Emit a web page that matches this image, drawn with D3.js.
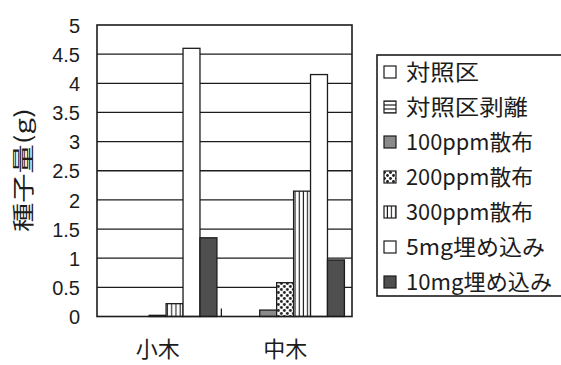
<!DOCTYPE html>
<html>
<head>
<meta charset="utf-8">
<script src="https://cdn.jsdelivr.net/npm/d3@7"></script>
<style>
  html, body { margin: 0; padding: 0; background: #fff; }
  svg { display: block; }
</style>
</head>
<body>
<svg id="chart" width="561" height="365"></svg>
<script>
// Seed yield (g) per tree size and treatment
const categories = ["小木", "中木"];
const seriesNames = ["対照区", "対照区剥離", "100ppm散布", "200ppm散布", "300ppm散布", "5mg埋め込み", "10mg埋め込み"];
const valuesSmallTree = [0, 0, 0, 0.02, 0.22, 4.6, 1.35];
const valuesMediumTree = [0, 0, 0.11, 0.58, 2.15, 4.15, 0.97];
const yTickValues = [0, 0.5, 1, 1.5, 2, 2.5, 3, 3.5, 4, 4.5, 5];
const yTickLabels = ["0", "0.5", "1", "1.5", "2", "2.5", "3", "3.5", "4", "4.5", "5"];
const yTitle = "種子量(g)";

const valuesByCategory = [valuesSmallTree, valuesMediumTree];

const svg = d3.select("#chart");
const ink = "#1c1c1c";
const jpFont = "'Noto Sans CJK JP', 'Noto Sans', sans-serif";
const numFont = "'Liberation Sans', Arial, sans-serif";

// Fill patterns for each treatment
const defs = svg.append("defs");

const hl = defs.append("pattern").attr("id", "p-hlines")
  .attr("patternUnits", "userSpaceOnUse").attr("width", 4).attr("height", 4);
hl.append("rect").attr("width", 4).attr("height", 4).attr("fill", "#fff");
hl.append("line").attr("x1", 0).attr("x2", 4).attr("y1", 2).attr("y2", 2)
  .attr("stroke", ink).attr("stroke-width", 1.2);

const vl = defs.append("pattern").attr("id", "p-vlines")
  .attr("patternUnits", "userSpaceOnUse").attr("width", 4.2).attr("height", 4);
vl.append("rect").attr("width", 4.2).attr("height", 4).attr("fill", "#fff");
vl.append("line").attr("x1", 2).attr("x2", 2).attr("y1", 0).attr("y2", 4)
  .attr("stroke", ink).attr("stroke-width", 1.1);

const dt = defs.append("pattern").attr("id", "p-dots")
  .attr("patternUnits", "userSpaceOnUse").attr("width", 6).attr("height", 6);
dt.append("rect").attr("width", 6).attr("height", 6).attr("fill", "#fff");
dt.append("circle").attr("cx", 1.5).attr("cy", 1.5).attr("r", 1.4).attr("fill", ink);
dt.append("circle").attr("cx", 4.5).attr("cy", 4.5).attr("r", 1.4).attr("fill", ink);

const fills = ["#fff", "url(#p-hlines)", "#8a8a8a", "url(#p-dots)", "url(#p-vlines)", "#fff", "#4f4f4f"];

// Plot area
const plot = { left: 97, right: 352, top: 25, bottom: 316.5 };

const x0 = d3.scaleBand()
  .domain(categories)
  .range([plot.left, plot.right])
  .paddingInner(0.07)
  .paddingOuter(0.035)
  .align(0.15);

const x1 = d3.scaleBand()
  .domain(seriesNames)
  .range([0, x0.bandwidth()])
  .padding(0);

const y = d3.scaleLinear().domain([0, 5]).range([plot.bottom, plot.top]);

// Horizontal gridlines
svg.append("g").selectAll("line")
  .data(yTickValues.filter(v => v > 0 && v < 5))
  .join("line")
  .attr("x1", plot.left).attr("x2", plot.right)
  .attr("y1", d => y(d)).attr("y2", d => y(d))
  .attr("stroke", ink).attr("stroke-width", 1.3);

// Bars
const groups = svg.append("g").selectAll("g")
  .data(categories)
  .join("g")
  .attr("transform", d => `translate(${x0(d)},0)`);

groups.selectAll("rect")
  .data((c, ci) => seriesNames.map((s, si) => ({ s, si, v: valuesByCategory[ci][si] })).filter(d => d.v > 0))
  .join("rect")
  .attr("x", d => x1(d.s))
  .attr("width", x1.bandwidth())
  .attr("y", d => y(d.v))
  .attr("height", d => y(0) - y(d.v))
  .attr("fill", d => fills[d.si])
  .attr("stroke", ink)
  .attr("stroke-width", 1.3);

// Plot frame
svg.append("rect")
  .attr("x", plot.left).attr("y", plot.top)
  .attr("width", plot.right - plot.left).attr("height", plot.bottom - plot.top)
  .attr("fill", "none").attr("stroke", ink).attr("stroke-width", 1.6);

// Category divider tick marks (pointing inward)
const step = x0.step();
const dividers = categories.slice(1).map(c => x0(c) - (step - x0.bandwidth()) / 2);
svg.append("g").selectAll("line")
  .data(dividers)
  .join("line")
  .attr("x1", d => d).attr("x2", d => d)
  .attr("y1", plot.bottom).attr("y2", plot.bottom - 8)
  .attr("stroke", ink).attr("stroke-width", 1.3);

// Y axis labels
const yAxis = d3.axisLeft(y)
  .tickValues(yTickValues)
  .tickFormat((d, i) => yTickLabels[i])
  .tickSize(0)
  .tickPadding(0);
const yg = svg.append("g").attr("transform", "translate(80,0)").call(yAxis);
yg.select(".domain").remove();
yg.selectAll("text")
  .attr("font-family", numFont).attr("font-size", 20)
  .attr("fill", ink).attr("dy", "0.36em");

// Y title
svg.append("text")
  .attr("transform", "translate(31,170) rotate(-90)")
  .attr("text-anchor", "middle")
  .attr("font-family", jpFont).attr("font-size", 22)
  .attr("fill", ink)
  .attr("textLength", 124).attr("lengthAdjust", "spacingAndGlyphs")
  .text(yTitle);

// Category labels
const xAxis = d3.axisBottom(x0).tickSize(0).tickPadding(0);
const xg = svg.append("g").attr("transform", "translate(0,357)").call(xAxis);
xg.select(".domain").remove();
xg.selectAll("text")
  .attr("font-family", jpFont).attr("font-size", 22)
  .attr("fill", ink).attr("y", 0).attr("dy", 0);

// Legend
const legend = { left: 377, top: 55, bottom: 296, rowTop: 72, rowStep: 35 };
svg.append("rect")
  .attr("x", legend.left).attr("y", legend.top)
  .attr("width", 200).attr("height", legend.bottom - legend.top)
  .attr("fill", "#fff").attr("stroke", ink).attr("stroke-width", 1.6);

const legendWidths = [73, 122, 127, 127, 127, 139, 146];
const rows = svg.append("g").selectAll("g")
  .data(seriesNames)
  .join("g")
  .attr("transform", (d, i) => `translate(${legend.left}, ${legend.rowTop + i * legend.rowStep})`);

rows.append("rect")
  .attr("x", 7).attr("y", -6).attr("width", 12).attr("height", 12)
  .attr("fill", (d, i) => fills[i])
  .attr("stroke", ink).attr("stroke-width", 1.2);

rows.append("text")
  .attr("x", 29).attr("dy", "0.36em")
  .attr("font-family", jpFont).attr("font-size", 22)
  .attr("fill", ink)
  .attr("textLength", (d, i) => legendWidths[i]).attr("lengthAdjust", "spacingAndGlyphs")
  .text(d => d);
</script>
</body>
</html>
